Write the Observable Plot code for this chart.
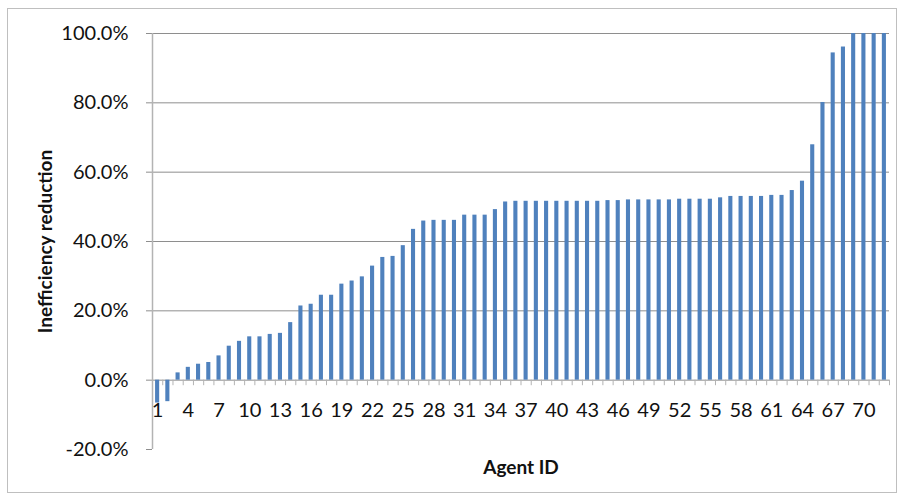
<!DOCTYPE html>
<html>
<head>
<meta charset="utf-8">
<script src="https://cdn.jsdelivr.net/npm/d3@7"></script>
<script src="https://cdn.jsdelivr.net/npm/@observablehq/plot@0.6"></script>
<style>
  html, body { margin: 0; padding: 0; background: #fff; }
  #chart svg { display: block; overflow: visible; }
</style>
</head>
<body>
<div id="chart"></div>
<script>
// Inefficiency reduction (%) per agent, sorted
const values = [
  -6.6, -6.2, 2.1, 3.7, 4.6, 5.1, 7.0, 9.8, 11.2, 12.5,
  12.5, 13.2, 13.5, 16.6, 21.4, 21.9, 24.5, 24.5, 27.7, 28.6,
  29.8, 32.9, 35.4, 35.7, 38.8, 43.5, 45.9, 46.1, 46.1, 46.1,
  47.6, 47.6, 47.6, 49.2, 51.4, 51.6, 51.6, 51.6, 51.6, 51.6,
  51.6, 51.6, 51.6, 51.6, 51.8, 51.8, 52.0, 52.0, 52.0, 52.0,
  52.0, 52.2, 52.2, 52.2, 52.2, 52.6, 53.0, 53.0, 53.0, 53.0,
  53.3, 53.3, 54.7, 57.4, 67.9, 80.1, 94.4, 96.1, 100, 100,
  100, 100
];
const ids = values.map((_, i) => i + 1);
const xLabels = [1, 4, 7, 10, 13, 16, 19, 22, 25, 28, 31, 34, 37, 40, 43, 46, 49, 52, 55, 58, 61, 64, 67, 70];
const yTicks = [-20, 0, 20, 40, 60, 80, 100];
const gridTicks = [0, 20, 40, 60, 80, 100];
const xTitle = "Agent ID";
const yTitle = "Inefficiency reduction";

const data = ids.map((id, i) => ({id, value: values[i]}));

const W = 900, H = 495;
const mL = 152, mR = 11, mT = 33, mB = 46;
const step = (W - mL - mR) / ids.length;
const font = "Lato, 'Open Sans', sans-serif";
const gridColor = "#8e8e8e";
const axisColor = "#b3b3b3";
const textColor = "#111";

const chart = Plot.plot({
  width: W,
  height: H,
  marginLeft: mL,
  marginRight: mR,
  marginTop: mT,
  marginBottom: mB,
  style: {fontFamily: font, fontSize: "20px", color: textColor, background: "#fff"},
  x: {type: "band", domain: ids, paddingInner: 0.6, paddingOuter: 0.3, round: false, axis: null},
  y: {domain: [-20, 100], axis: null},
  marks: [
    Plot.ruleY(gridTicks, {stroke: gridColor, strokeWidth: 1}),
    Plot.axisY({
      ticks: yTicks,
      tickFormat: d => d.toFixed(1) + "%",
      tickSize: 6,
      tickPadding: 18,
      stroke: gridColor,
      fontSize: 20,
      label: null
    }),
    Plot.ruleX([ids[0]], {dx: -step / 2, y1: -20, y2: 100, stroke: axisColor, strokeWidth: 1.5}),
    Plot.ruleX(ids, {x: d => d, y1: 0, y2: -1.6, dx: -step / 2, stroke: axisColor}),
    Plot.ruleX([ids[ids.length - 1]], {y1: 0, y2: -1.6, dx: step / 2, stroke: axisColor}),
    Plot.text(xLabels, {x: d => d, y: 0, dy: 30, text: d => String(d), fontSize: 20, fill: textColor}),
    Plot.barY(data, {x: "id", y: "value", fill: "#4f81bd"}),
    Plot.text([yTitle], {frameAnchor: "left", dx: -107, rotate: -90, textAnchor: "middle", lineAnchor: "middle", fontWeight: "bold", fontSize: 19, fill: textColor}),
    Plot.text([xTitle], {frameAnchor: "bottom", dy: 18, textAnchor: "middle", lineAnchor: "middle", fontWeight: "bold", fontSize: 19, fill: textColor})
  ]
});

d3.select(chart).append("rect")
  .attr("x", 7.5).attr("y", 8.5)
  .attr("width", 889).attr("height", 484)
  .attr("fill", "none").attr("stroke", "#bfbfbf").attr("stroke-width", 1);

document.getElementById("chart").appendChild(chart);
</script>
</body>
</html>
